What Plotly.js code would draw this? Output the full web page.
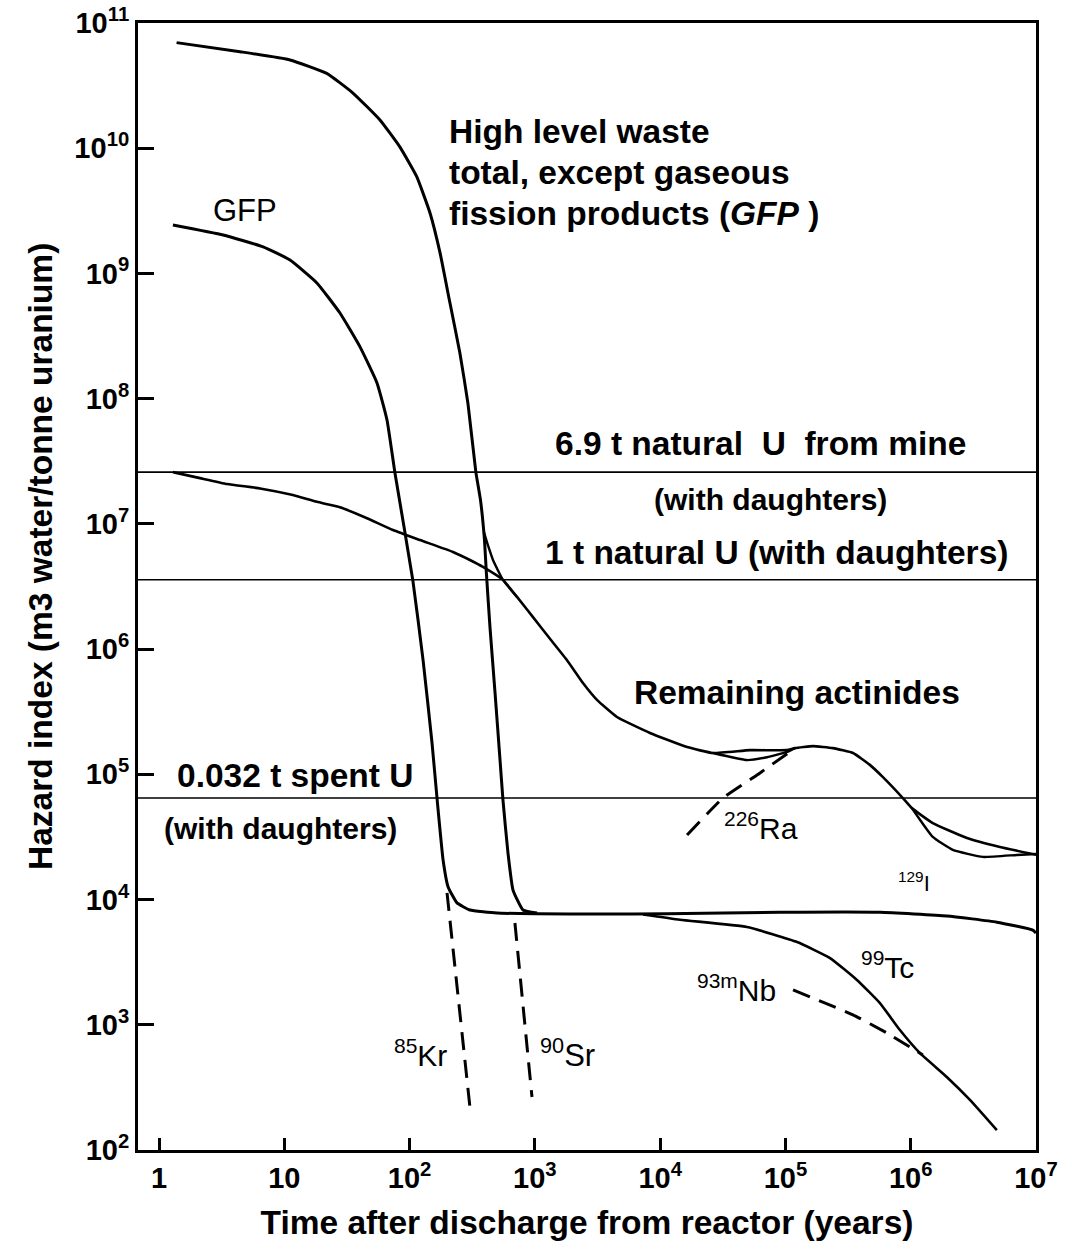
<!DOCTYPE html>
<html>
<head>
<meta charset="utf-8">
<script src="https://cdn.plot.ly/plotly-3.0.1.min.js"></script>
<style>html,body{margin:0;padding:0;background:#fff;}#chart{width:1072px;height:1253px;}</style>
</head>
<body>
<div id="chart"></div>
<script>
// ---- Data (years after discharge, hazard index m3 water / tonne U) ----
const hlwT = [1.38, 4.43, 11.1, 21.8, 35.3, 58, 83.8, 114, 145.5, 175, 210, 252, 292, 338, 368, 396, 410, 438, 481, 527, 556, 610, 669, 804, 1040];
const hlwV = [6.97e10, 5.9e10, 5.07e10, 3.96e10, 2.76e10, 1.68e10, 1.02e10, 5.93e9, 3.04e9, 1.46e9, 5.8e8, 2.32e8, 9.2e7, 2.59e7, 1.55e7, 7.43e6, 4.06e6, 1.5e6, 4.46e5, 1.3e5, 6.24e4, 2.35e4, 1.19e4, 8.25e3, 7.8e3];

const totalT = [392, 425, 463, 556, 720];
const totalV = [8.6e6, 6.6e6, 5.15e6, 3.57e6, 2.61e6];

const gfpT = [1.29, 3.25, 6.77, 11.1, 18.2, 27.8, 40.2, 55, 66, 76.4, 106, 128, 151, 166, 185, 203, 239, 303, 498, 1040, 3310, 11300, 90400, 568000, 1940000, 4870000, 9450000, 10000000];
const gfpV = [2.44e9, 2.03e9, 1.63e9, 1.28e9, 8.4e8, 4.83e8, 2.59e8, 1.33e8, 6.76e7, 2.55e7, 3.57e6, 8.2e5, 1.78e5, 6.24e4, 2.07e4, 1.26e4, 9.4e3, 8.25e3, 7.8e3, 7.7e3, 7.65e3, 7.7e3, 7.9e3, 7.9e3, 7.4e3, 6.6e3, 5.7e3, 5.4e3];

const actT = [1.29, 2.12, 3.49, 6.4, 11.7, 18.2, 27.8, 45.7, 73.7, 121, 222, 303, 385, 556, 720, 966, 1320, 1800, 2420, 3130, 4520, 8290, 16400, 26400, 52100, 103000, 119000, 166000, 239000, 346000, 472000, 600000, 851000, 1020000, 1500000, 2810000, 5150000, 10200000];
const actV = [2.59e7, 2.32e7, 2.08e7, 1.92e7, 1.7e7, 1.5e7, 1.36e7, 1.11e7, 8.93e6, 7.43e6, 5.97e6, 5.15e6, 4.53e6, 3.57e6, 2.61e6, 1.8e6, 1.21e6, 8.19e5, 5.36e5, 3.93e5, 2.87e5, 2.14e5, 1.65e5, 1.48e5, 1.56e5, 1.56e5, 1.62e5, 1.68e5, 1.62e5, 1.48e5, 1.19e5, 9.5e4, 6.59e4, 5.38e4, 4.08e4, 3.1e4, 2.63e4, 2.27e4];

const actLowAT = [26400, 49300, 71200, 103000, 119000];
const actLowAV = [1.48e5, 1.3e5, 1.37e5, 1.51e5, 1.62e5];
const actLowBT = [1020000, 1500000, 2170000, 3770000, 7030000, 10000000];
const actLowBV = [5.38e4, 3.16e4, 2.49e4, 2.19e4, 2.27e4, 2.31e4];

const tcT = [7300, 14400, 49300, 124000, 227000, 372000, 568000, 820000, 1180000, 1940000, 2970000, 4870000];
const tcV = [7.6e3, 6.9e3, 6.04e3, 4.58e3, 3.41e3, 2.28e3, 1.49e3, 908, 596, 383, 251, 144];

const nbT = [115000, 346000, 646000, 1250000];
const nbV = [1900, 1200, 859, 574];

const raT = [16400, 31700, 59300, 113000];
const raV = [3.28e4, 6.47e4, 9.88e4, 1.56e5];

const krT = [199, 303];
const krV = [1.13e4, 220];
const srT = [693, 948];
const srV = [6.5e3, 265];

const refLevels = [2.59e7, 3.58e6, 6.47e4];
const refNames = ["6.9 t natural U from mine", "1 t natural U", "0.032 t spent U"];

const xTickVals = [1, 10, 100, 1e3, 1e4, 1e5, 1e6, 1e7];
const xTickText = ["1", "10", "10<sup>2</sup>", "10<sup>3</sup>", "10<sup>4</sup>", "10<sup>5</sup>", "10<sup>6</sup>", "10<sup>7</sup>"];
const yTickVals = [1e2, 1e3, 1e4, 1e5, 1e6, 1e7, 1e8, 1e9, 1e10, 1e11];
const yTickText = ["10<sup>2</sup>", "10<sup>3</sup>", "10<sup>4</sup>", "10<sup>5</sup>", "10<sup>6</sup>", "10<sup>7</sup>", "10<sup>8</sup>", "10<sup>9</sup>", "10<sup>10</sup>", "10<sup>11</sup>"];

const xTitle = 'Time after discharge from reactor (years)';
const yTitle = 'Hazard index (m3 water/tonne uranium)';

// ---- Layout geometry ----
const W = 1072, H = 1253;
const M = {l: 138, r: 36, t: 23, b: 103};
const PW = W - M.l - M.r, PH = H - M.t - M.b;
const XR = [-0.168, 7.0];
const px = x => (x - M.l) / PW;
const py = y => 1 - (y - M.t) / PH;
const FONT = "Liberation Sans, Arial, Helvetica, sans-serif";

const solid = (name, x, y, w) => ({type: 'scatter', mode: 'lines', name, x, y, line: {color: '#000', width: w || 3, shape: 'spline', smoothing: 0.4}, hoverinfo: 'skip'});
const dashed = (name, x, y) => ({type: 'scatter', mode: 'lines', name, x, y, line: {color: '#000', width: 3, dash: '18px,10px', shape: 'spline', smoothing: 0.4}, hoverinfo: 'skip'});

const traces = [];
refLevels.forEach((lv, i) => traces.push({type: 'scatter', mode: 'lines', name: refNames[i], x: [Math.pow(10, XR[0]), Math.pow(10, XR[1])], y: [lv, lv], line: {color: '#000', width: 1.6}, hoverinfo: 'skip'}));
traces.push(solid('High level waste total', hlwT, hlwV));
traces.push(solid('Total (merging)', totalT, totalV, 2.4));
traces.push(solid('GFP', gfpT, gfpV));
traces.push(solid('Remaining actinides', actT, actV, 2.6));
traces.push(solid('Actinides lower A', actLowAT, actLowAV, 2.4));
traces.push(solid('Actinides lower B', actLowBT, actLowBV, 2.4));
traces.push(solid('99Tc', tcT, tcV, 2.6));
traces.push(dashed('93mNb', nbT, nbV));
traces.push(dashed('226Ra', raT, raV));
traces.push(dashed('85Kr', krT, krV));
traces.push(dashed('90Sr', srT, srV));

const ann = (text, x, y, size, bold, extra) => Object.assign({
  text: bold ? '<b>' + text + '</b>' : text,
  xref: 'paper', yref: 'paper', x: px(x), y: py(y), xanchor: 'left', yanchor: 'middle',
  showarrow: false, font: {family: FONT, size: size, color: '#000'}
}, extra || {});

const annotations = [
  ann('High level waste', 447, 131, 33.5, true),
  ann('total, except gaseous', 447, 172, 33.5, true),
  ann('fission products (<i>GFP</i> )', 447, 214, 33.5, true),
  ann('GFP', 211, 210, 31, false),
  ann('6.9 t natural\u00a0 U\u00a0 from mine', 553, 443, 33.5, true),
  ann('(with daughters)', 652, 500, 30, true),
  ann('1 t natural U (with daughters)', 543, 552, 33.5, true),
  ann('Remaining actinides', 632, 692, 33.5, true),
  ann('0.032 t spent U', 175, 775, 33.5, true),
  ann('(with daughters)', 162, 828, 30, true),
  ann('<sup>226</sup>Ra', 722, 826, 30, false),
  ann('<sup>129</sup>I', 896, 882, 22, false),
  ann('<sup>85</sup>Kr', 392, 1053, 30, false),
  ann('<sup>90</sup>Sr', 538, 1053, 31, false),
  ann('<sup>93m</sup>Nb', 695, 988, 30, false),
  ann('<sup>99</sup>Tc', 859, 965, 30, false),
  // y-axis title, placed as in the reference (slightly above plot centre)
  ann(yTitle, 40, 557, 33.5, true, {textangle: -90, xanchor: 'center', yanchor: 'middle'})
];

const axisCommon = {
  type: 'log', showgrid: false, zeroline: false, showline: true, linecolor: '#000', linewidth: 3,
  mirror: true, ticks: 'inside', tickcolor: '#000', tickwidth: 3,
  tickfont: {family: FONT, size: 29, color: '#000', weight: 'bold'}
};

const layout = {
  width: W, height: H, margin: M, paper_bgcolor: '#fff', plot_bgcolor: '#fff', showlegend: false,
  font: {family: FONT, color: '#000'},
  xaxis: Object.assign({}, axisCommon, {
    range: XR, tickvals: xTickVals, ticktext: xTickText, ticklen: 12,
    title: {text: '<b>' + xTitle + '</b>', font: {family: FONT, size: 33.5, color: '#000'}, standoff: 18}
  }),
  yaxis: Object.assign({}, axisCommon, {
    range: [2, 11], tickvals: yTickVals, ticktext: yTickText, ticklen: 16
  }),
  annotations: annotations
};

Plotly.newPlot('chart', traces, layout, {displayModeBar: false, staticPlot: true});
</script>
</body>
</html>
